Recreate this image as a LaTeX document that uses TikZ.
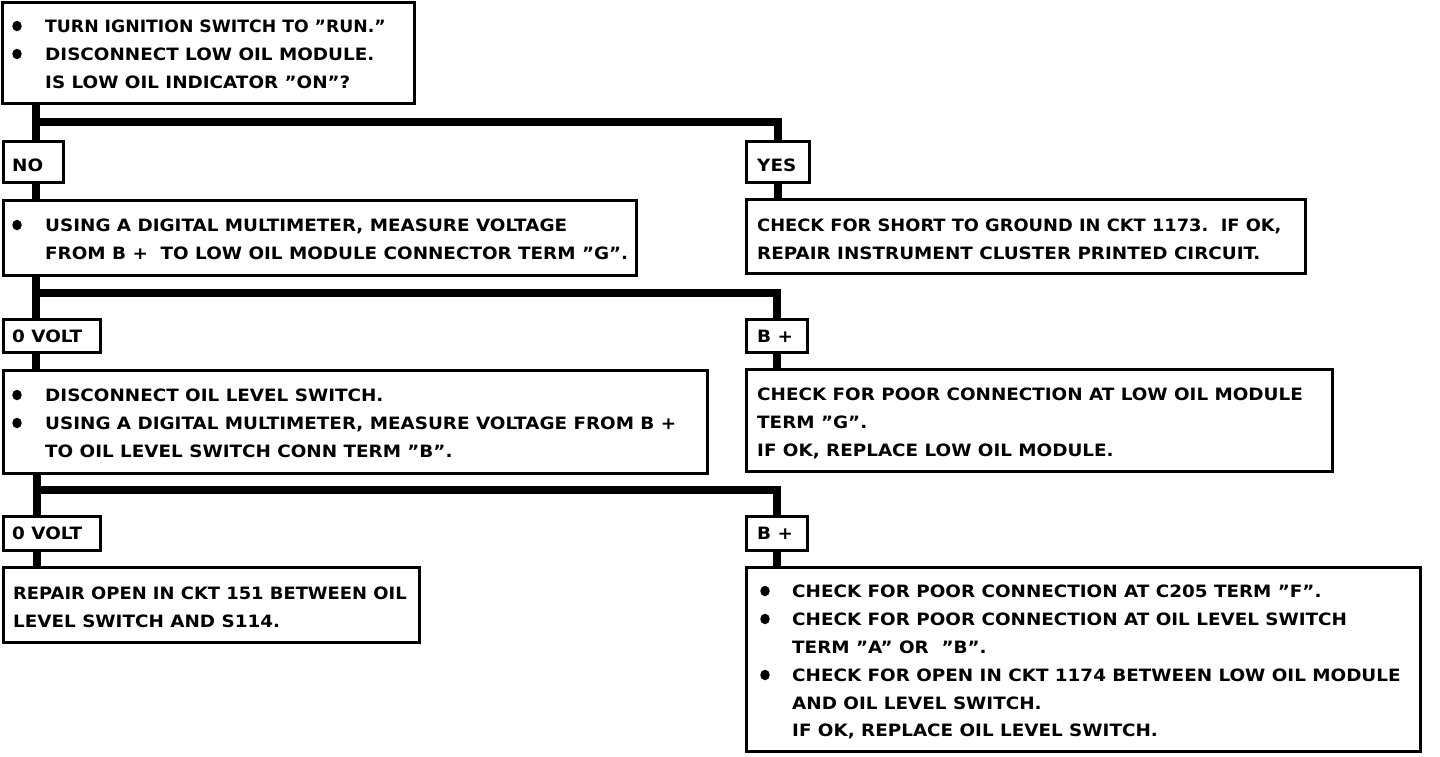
\documentclass[tikz,border=0pt]{standalone}
\usepackage{fontspec}
\usetikzlibrary{shapes.geometric}
\setmainfont{DejaVu Sans}[FakeStretch=1.08]
\newcommand{\fs}{\fontsize{17}{20}\selectfont\bfseries}
\begin{document}
\begin{tikzpicture}[x=1pt,y=-1pt,
  box/.style={draw, line width=3pt, anchor=north west, inner sep=0pt, outer sep=0pt},
  conn/.style={line width=7.5pt},
  txt/.style={anchor=base west, inner sep=0pt, font=\fs},
  dot/.style={ellipse, fill, inner sep=0pt, minimum width=9.5pt, minimum height=10.5pt}]
\useasboundingbox (0,0) rectangle (1440,756);
% boxes
\node[box, minimum width=412pt, minimum height=101pt] (b1) at (2.5,2.5) {};
\node[box, minimum width=60pt, minimum height=41pt] (no) at (3.5,141.5) {};
\node[box, minimum width=63pt, minimum height=41pt] (yes) at (746.5,141.5) {};
\node[box, minimum width=633pt, minimum height=75pt] (b2) at (3.5,200.5) {};
\node[box, minimum width=559pt, minimum height=74pt] (ry) at (746.5,199.5) {};
\node[box, minimum width=97pt, minimum height=33pt] (v0a) at (3.5,319.5) {};
\node[box, minimum width=61pt, minimum height=33pt] (bpa) at (746.5,319.5) {};
\node[box, minimum width=704pt, minimum height=103pt] (b3) at (3.5,370.5) {};
\node[box, minimum width=586pt, minimum height=102pt] (rb) at (746.5,369.5) {};
\node[box, minimum width=97pt, minimum height=34pt] (v0b) at (3.5,516.5) {};
\node[box, minimum width=61pt, minimum height=34pt] (bpb) at (746.5,516.5) {};
\node[box, minimum width=416pt, minimum height=75pt] (rep) at (3.5,567.5) {};
\node[box, minimum width=674pt, minimum height=184pt] (fin) at (746.5,567.5) {};
% connectors
\coordinate (j1) at (36,122);
\coordinate (j2) at (36,293);
\coordinate (j3) at (37,490);
\draw[conn] (b1.south -| j1) -- (no.north -| j1);
\draw[conn] (j1) -- (j1 -| yes.north) -- (yes.north);
\draw[conn] (no.south -| j1) -- (b2.north -| j1);
\draw[conn] (yes.south) -- (ry.north -| yes.south);
\draw[conn] (b2.south -| j2) -- (v0a.north -| j2);
\draw[conn] (j2) -- (j2 -| bpa.north) -- (bpa.north);
\draw[conn] (v0a.south -| j2) -- (b3.north -| j2);
\draw[conn] (bpa.south) -- (rb.north -| bpa.south);
\draw[conn] (b3.south -| j3) -- (v0b.north -| j3);
\draw[conn] (j3) -- (j3 -| bpb.north) -- (bpb.north);
\draw[conn] (v0b.south -| j3) -- (rep.north -| j3);
\draw[conn] (bpb.south) -- (fin.north -| bpb.south);
% box 1 text
\node[dot] (d1a) at (17,26) {};
\node[dot] (d1b) at (17,54) {};
\node[txt] (t1a) at (45,32) {\scalebox{0.94}[1]{TURN IGNITION SWITCH TO ”RUN.”}};
\node[txt] (t1b) at (45,60) {DISCONNECT LOW OIL MODULE.};
\node[txt] (t1c) at (45,88) {IS LOW OIL INDICATOR ”ON”?};
% labels
\node[txt] (lno) at (12,171) {NO};
\node[txt] (lyes) at (757,171) {YES};
\node[txt] (lv0a) at (12,342) {0 VOLT};
\node[txt] (lbpa) at (757,342) {B +};
\node[txt] (lv0b) at (12,539) {0 VOLT};
\node[txt] (lbpb) at (757,539) {B +};
% box 2
\node[dot] (d2a) at (17,225) {};
\node[txt] (t2a) at (45,231) {USING A DIGITAL MULTIMETER, MEASURE VOLTAGE};
\node[txt] (t2b) at (45,259) {FROM B +\ \ TO LOW OIL MODULE CONNECTOR TERM ”G”.};
% yes result
\node[txt] (ty1) at (757,231) {\scalebox{0.97}[1]{CHECK FOR SHORT TO GROUND IN CKT 1173.\ \ IF OK,}};
\node[txt] (ty2) at (757,259) {REPAIR INSTRUMENT CLUSTER PRINTED CIRCUIT.};
% box 3
\node[dot] (d3a) at (17,395) {};
\node[dot] (d3b) at (17,423) {};
\node[txt] (t3a) at (45,401) {DISCONNECT OIL LEVEL SWITCH.};
\node[txt] (t3b) at (45,429) {USING A DIGITAL MULTIMETER, MEASURE VOLTAGE FROM B +};
\node[txt] (t3c) at (45,457) {TO OIL LEVEL SWITCH CONN TERM ”B”.};
% B+ result
\node[txt] (tb1) at (757,400) {CHECK FOR POOR CONNECTION AT LOW OIL MODULE};
\node[txt] (tb2) at (757,428) {TERM ”G”.};
\node[txt] (tb3) at (757,456) {IF OK, REPLACE LOW OIL MODULE.};
% repair
\node[txt] (tr1) at (13,599) {\scalebox{0.975}[1]{REPAIR OPEN IN CKT 151 BETWEEN OIL}};
\node[txt] (tr2) at (13,627) {LEVEL SWITCH AND S114.};
% final
\node[dot] (dfa) at (765,591) {};
\node[dot] (dfb) at (765,619) {};
\node[dot] (dfc) at (765,675) {};
\node[txt] (tf1) at (792,597) {CHECK FOR POOR CONNECTION AT C205 TERM ”F”.};
\node[txt] (tf2) at (792,625) {CHECK FOR POOR CONNECTION AT OIL LEVEL SWITCH};
\node[txt] (tf3) at (792,653) {TERM ”A” OR\ \ ”B”.};
\node[txt] (tf4) at (792,681) {CHECK FOR OPEN IN CKT 1174 BETWEEN LOW OIL MODULE};
\node[txt] (tf5) at (792,709) {AND OIL LEVEL SWITCH.};
\node[txt] (tf6) at (792,736) {IF OK, REPLACE OIL LEVEL SWITCH.};
\end{tikzpicture}
\end{document}
